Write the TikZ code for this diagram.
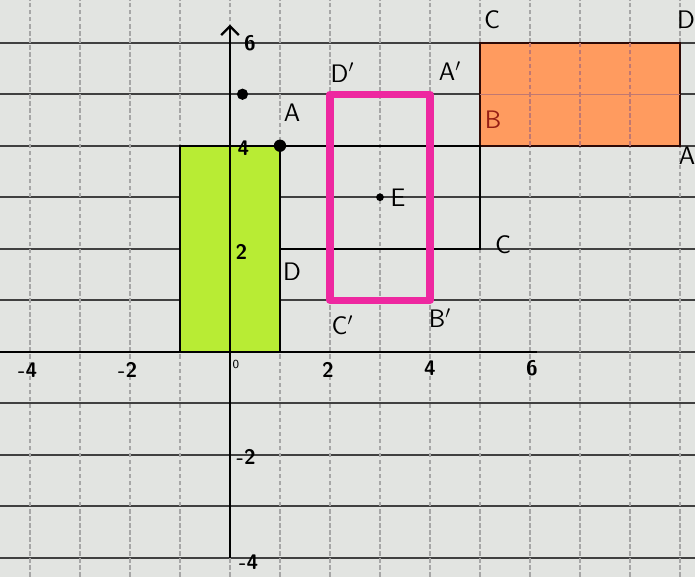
\documentclass[tikz,border=0pt]{standalone}
\usepackage{tikz}
\usetikzlibrary{arrows.meta}
\definecolor{paper}{RGB}{226,228,225}
\definecolor{lime}{RGB}{184,236,52}
\definecolor{peach}{RGB}{255,155,95}
\definecolor{hotpink}{RGB}{238,40,160}
\definecolor{rust}{RGB}{150,30,20}
\newcommand{\RD}[1]{\textcolor{rust}{#1}}

\begin{document}
\begin{tikzpicture}[x=1cm, y=1.03cm, font=\sffamily,
  hline/.style={gray!50!black, line width=0.9pt},
  vline/.style={gray!70, line width=0.7pt, dash pattern=on 2.5pt off 1.5pt},
  outline/.style={black, line width=1.3pt},
  lbl/.style={inner sep=0pt, font=\sffamily\Large},
  num/.style={inner sep=0pt, font=\sffamily\large\bfseries}]

  \useasboundingbox[fill=paper] (-4.6,-4.37) rectangle (9.3,6.83);

  %% graph paper
  \foreach \j in {-4,...,6}
    \draw[hline] (-4.6,\j) -- (9.3,\j);
  \foreach \i in {-4,...,9}
    \draw[vline] (\i,-4.37) -- (\i,6.83);

  %% filled shapes
  \draw[outline, fill=lime] (-1,0) rectangle (1,4);
  \draw[outline, draw=black!70!rust, fill=peach] (5,4) rectangle (9,6);
  \draw[rust!60, line width=0.6pt] (5,5) -- (9,5);
  \draw[rust!60, line width=0.6pt, dash pattern=on 2.5pt off 1.5pt] (6,4) -- (6,6) (7,4) -- (7,6) (8,4) -- (8,6);

  %% axes
  \draw[line width=1.3pt] (-4.6,0) -- (6.15,0);
  \draw[line width=1.3pt, -{Straight Barb[length=5pt]}] (0,-4) -- (0,6.35);

  %% ABCD
  \draw[outline] (1,4) -- (5,4) -- (5,2) -- (1,2);
  \draw[hotpink, line width=4pt, line join=round] (2,1) rectangle (4,5);

  \fill (1,4) circle (3.5pt);
  \fill (0.25,5) circle (3.2pt);
  \fill (3,3) circle (2.2pt);

  %% axis numbers
  \node[num] (ya) at (0.4,6.0) {6};
  \node[num] (yb) at (0.27,3.96) {4};
  \node[num] (yc) at (0.23,1.94) {2};
  \node[num] (yd) at (0.32,-2.04) {-2};
  \node[num] (ye) at (0.37,-4.08) {-4};
  \node[num] (xa) at (-4.05,-0.35) {-4};
  \node[num] (xb) at (-2.05,-0.35) {-2};
  \node[num, font=\sffamily\scriptsize] (xo) at (0.12,-0.25) {0};
  \node[num] (xc) at (1.96,-0.35) {2};
  \node[num] (xd) at (4.0,-0.32) {4};
  \node[num] (xe) at (6.04,-0.32) {6};

  %% point labels
  \node[lbl] (a) at (1.24,4.64) {A};
  \node[lbl] (d) at (1.24,1.55) {D};
  \node[lbl] (c) at (5.46,2.08) {C};
  \node[lbl] (b) at (5.26,4.5) {\RD{B}};
  \node[lbl] (e) at (3.36,2.99) {E};
  \node[lbl] (dp) at (2.25,5.42) {D$'$};
  \node[lbl] (ap) at (4.4,5.45) {A$'$};
  \node[lbl] (cp) at (2.25,0.52) {C$'$};
  \node[lbl] (bp) at (4.2,0.66) {B$'$};
  \node[lbl] (cq) at (5.24,6.45) {C};
  \node[lbl] (dq) at (9.12,6.45) {D};
  \node[lbl] (aq) at (9.14,3.8) {A};
\end{tikzpicture}
\end{document}
